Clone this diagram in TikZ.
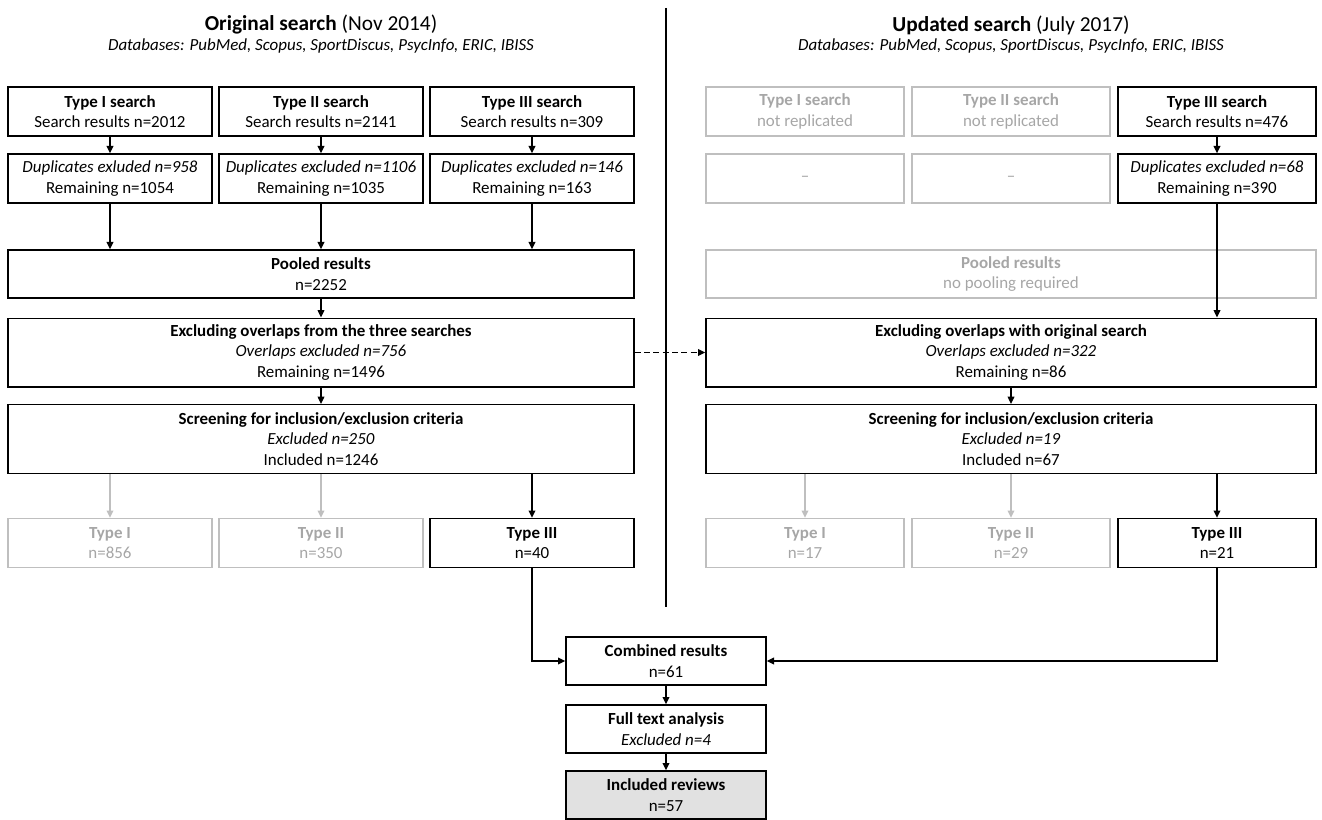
\documentclass[tikz,border=0pt]{standalone}
\usepackage{fontspec}
\setmainfont{Carlito}
\usetikzlibrary{arrows.meta,positioning}
\definecolor{lightline}{HTML}{BFBFBF}
\definecolor{lighttext}{HTML}{A6A6A6}
\definecolor{resultfill}{HTML}{E1E1E1}
\tikzset{
    stage/.style={
    rectangle,draw=black,line width=1pt,align=center,inner sep=2pt,
    font=\fontsize{12.7}{15.5}\selectfont
    },
    faint/.style={
    draw=lightline,text=lighttext
    },
    smallL/.style={
    stage,minimum width=153pt,minimum height=36.75pt
    },
    smallR/.style={
    stage,minimum width=148.5pt,minimum height=36.75pt
    },
    wideL/.style={
    stage,minimum width=469.5pt,minimum height=36pt
    },
    wideR/.style={
    stage,minimum width=457.5pt,minimum height=36pt
    },
    tallL/.style={
    wideL,minimum height=51.5pt
    },
    tallR/.style={
    wideR,minimum height=51.5pt
    },
    final/.style={
    stage,minimum width=150pt,minimum height=36pt
    },
    heading/.style={
    font=\fontsize{16}{19}\selectfont
    },
    dbline/.style={
    font=\fontsize{12.7}{15.5}\selectfont\itshape
    },
    flow/.style={
    -{Triangle[length=5.5pt,width=5pt]},line width=1pt,draw=black
    },
    faintflow/.style={
    -{Triangle[length=5.5pt,width=5pt]},line width=1pt,draw=lightline,fill=lightline
    },
}

\begin{document}
\begin{tikzpicture}[x=0.75pt, y=-0.75pt]
   \useasboundingbox (0,0) rectangle (1322,820);
   \node[heading] (headL) at (321,25) {\textbf{Original search} (Nov 2014)};
   \node[dbline] (dbL) at (321,46) {Databases: PubMed, Scopus, SportDiscus, PsycInfo, ERIC, IBISS};
   \node[heading] (headR) at (1011,25) {\textbf{Updated search} (July 2017)};
   \node[dbline] (dbR) at (1011,46) {Databases: PubMed, Scopus, SportDiscus, PsycInfo, ERIC, IBISS};
   \coordinate (divtop) at (666,8);
   \coordinate (divbot) at (666,607);
   \draw[line width=1.2pt] (divtop) -- (divbot);

   \node[smallL] (s1L) at (110,111.5) {\textbf{Type I search}\\Search results n=2012};
   \node[smallL] (s2L) at (321,111.5) {\textbf{Type II search}\\Search results n=2141};
   \node[smallL] (s3L) at (532,111.5) {\textbf{Type III search}\\Search results n=309};
   \node[smallL] (d1L) at (110,178.5) {\textit{Duplicates exluded n=958}\\Remaining n=1054};
   \node[smallL] (d2L) at (321,178.5) {\textit{Duplicates excluded n=1106}\\Remaining n=1035};
   \node[smallL] (d3L) at (532,178.5) {\textit{Duplicates excluded n=146}\\Remaining n=163};
   \node[wideL] (poolL) at (321,274) {\textbf{Pooled results}\\n=2252};
   \node[tallL] (exL) at (321,352.5) {\textbf{Excluding overlaps from the three searches}\\\textit{Overlaps excluded n=756}\\Remaining n=1496};
   \node[tallL] (scL) at (321,439) {\textbf{Screening for inclusion/exclusion criteria}\\\textit{Excluded n=250}\\Included n=1246};
   \node[smallL,faint] (t1L) at (110,543) {\textbf{Type I}\\n=856};
   \node[smallL,faint] (t2L) at (321,543) {\textbf{Type II}\\n=350};
   \node[smallL] (t3L) at (532,543) {\textbf{Type III}\\n=40};

   \node[smallR,faint] (s1R) at (805,111.5) {\textbf{Type I search}\\not replicated};
   \node[smallR,faint] (s2R) at (1011,111.5) {\textbf{Type II search}\\not replicated};
   \node[smallR] (s3R) at (1217,111.5) {\textbf{Type III search}\\Search results n=476};
   \node[smallR,faint] (d1R) at (805,178.5) {–};
   \node[smallR,faint] (d2R) at (1011,178.5) {–};
   \node[smallR] (d3R) at (1217,178.5) {\textit{Duplicates excluded n=68}\\Remaining n=390};
   \node[wideR,faint] (poolR) at (1011,274) {\textbf{Pooled results}\\no pooling required};
   \node[tallR] (exR) at (1011,352.5) {\textbf{Excluding overlaps with original search}\\\textit{Overlaps excluded n=322}\\Remaining n=86};
   \node[tallR] (scR) at (1011,439) {\textbf{Screening for inclusion/exclusion criteria}\\\textit{Excluded n=19}\\Included n=67};
   \node[smallR,faint] (t1R) at (805,543) {\textbf{Type I}\\n=17};
   \node[smallR,faint] (t2R) at (1011,543) {\textbf{Type II}\\n=29};
   \node[smallR] (t3R) at (1217,543) {\textbf{Type III}\\n=21};

   \node[final] (comb) at (666,661) {\textbf{Combined results}\\n=61};
   \node[final] (full) at (666,729) {\textbf{Full text analysis}\\\textit{Excluded n=4}};
   \node[final,fill=resultfill] (incl) at (666,795) {\textbf{Included reviews}\\n=57};

  \path[flow]
    (s1L) edge (d1L)
    (s2L) edge (d2L)
    (s3L) edge (d3L)
    (poolL) edge (exL)
    (exL) edge (scL)
    (s3R) edge (d3R)
    (exR) edge (scR)
    (comb) edge (full)
    (full) edge (incl);
  \draw[flow] (d1L.south) -- (d1L.south |- poolL.north);
  \draw[flow] (d2L.south) -- (d2L.south |- poolL.north);
  \draw[flow] (d3L.south) -- (d3L.south |- poolL.north);
  \draw[flow] (d3R.south) -- (d3R.south |- exR.north);
  \draw[flow] (scL.south -| t3L.north) -- (t3L.north);
  \draw[flow] (scR.south -| t3R.north) -- (t3R.north);
  \draw[faintflow] (scL.south -| t1L.north) -- (t1L.north);
  \draw[faintflow] (scL.south -| t2L.north) -- (t2L.north);
  \draw[faintflow] (scR.south -| t1R.north) -- (t1R.north);
  \draw[faintflow] (scR.south -| t2R.north) -- (t2R.north);
  \draw[flow,dash pattern=on 4.5pt off 2.5pt] (exL) -- (exR);
  \draw[flow] (t3L.south) |- (comb.west);
  \draw[flow] (t3R.south) |- (comb.east);
\end{tikzpicture}
\end{document}
